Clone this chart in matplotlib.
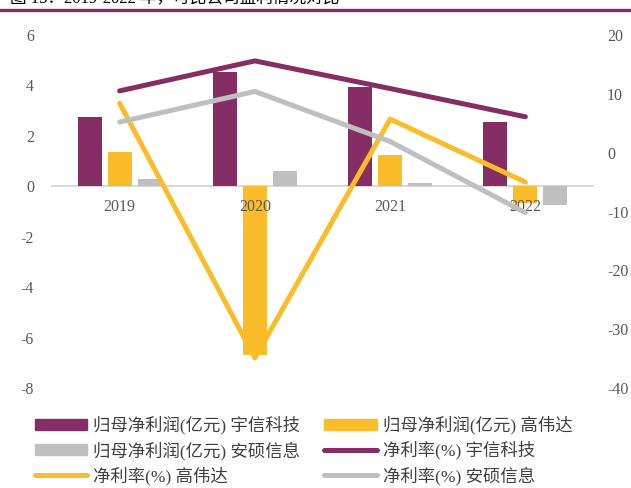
import numpy as np
import matplotlib.pyplot as plt
from matplotlib.lines import Line2D
from matplotlib.patches import Patch

# Data
years = ['2019', '2020', '2021', '2022']
profit_yuxin = [2.75, 4.55, 3.95, 2.55]      # 归母净利润(亿元) 宇信科技
profit_gaowei = [1.35, -6.7, 1.25, -0.65]    # 归母净利润(亿元) 高伟达
profit_anshuo = [0.3, 0.6, 0.12, -0.75]      # 归母净利润(亿元) 安硕信息
margin_yuxin = [10.5, 15.6, 10.9, 6.1]       # 净利率(%) 宇信科技
margin_gaowei = [8.4, -34.9, 5.7, -5.0]      # 净利率(%) 高伟达
margin_anshuo = [5.2, 10.4, 1.9, -10.2]      # 净利率(%) 安硕信息

purple = '#862D66'
yellow = '#FBBC2A'
gray = '#BFBFBF'
tick_color = '#595959'
serif_cjk = ['Liberation Serif', 'Noto Sans CJK SC']

plt.rcParams['font.family'] = serif_cjk
plt.rcParams['axes.unicode_minus'] = False

fig = plt.figure(figsize=(6.31, 4.88), dpi=100)
ax = fig.add_axes([52 / 631, 1 - 388 / 488, (593 - 52) / 631, (388 - 35) / 488])
ax2 = ax.twinx()

x = np.arange(len(years))
w = 0.178
off = 0.222
ax.bar(x - off, profit_yuxin, w, color=purple, zorder=2)
ax.bar(x, profit_gaowei, w, color=yellow, zorder=2)
ax.bar(x + off, profit_anshuo, w, color=gray, zorder=2)

line_kw = dict(lw=3.6, solid_capstyle='round', solid_joinstyle='round')
ax2.plot(x, margin_yuxin, color=purple, **line_kw)
ax2.plot(x, margin_gaowei, color=yellow, **line_kw)
ax2.plot(x, margin_anshuo, color=gray, **line_kw)

ax.set_xlim(-0.5, 3.5)
ax.set_ylim(-8, 6)
ax.set_yticks(range(-8, 7, 2))
ax2.set_ylim(-40, 20)
ax2.set_yticks(range(-40, 21, 10))

for a in (ax, ax2):
    for s in ['top', 'left', 'right']:
        a.spines[s].set_visible(False)
ax2.spines['bottom'].set_visible(False)
ax.set_axisbelow(False)
ax.spines['bottom'].set_position(('data', 0))
ax.spines['bottom'].set_color('#D9D9D9')
ax.spines['bottom'].set_linewidth(1.5)
ax.spines['bottom'].set_zorder(1)

ax.set_xticks(x)
ax.set_xticklabels(years)
ax.tick_params(axis='x', length=0, pad=9.5, labelsize=11.5, labelcolor=tick_color)
ax.tick_params(axis='y', length=0, pad=13, labelsize=11.5, labelcolor=tick_color)
ax2.tick_params(axis='y', length=0, pad=10, labelsize=11.5, labelcolor=tick_color)

# legend (column-first ordering gives the row layout of the original)
handles = [
    Patch(color=purple), Patch(color=gray), Line2D([], [], color=yellow, lw=3.6, solid_capstyle='round'),
    Patch(color=yellow), Line2D([], [], color=purple, lw=3.6, solid_capstyle='round'),
    Line2D([], [], color=gray, lw=3.6, solid_capstyle='round'),
]
labels = [
    '归母净利润(亿元) 宇信科技', '归母净利润(亿元) 安硕信息', '净利率(%) 高伟达',
    '归母净利润(亿元) 高伟达', '净利率(%) 宇信科技', '净利率(%) 安硕信息',
]
leg = fig.legend(handles, labels, ncol=2, loc='upper left', bbox_to_anchor=(35 / 631, 1 - 416 / 488),
                 frameon=False, borderpad=0, borderaxespad=0, fontsize=12.5,
                 handlelength=3.0, handleheight=0.6, handletextpad=0.35,
                 columnspacing=1.4, labelspacing=0.38)
for t in leg.get_texts():
    t.set_color('#404040')

# header band and cut-off title
fig.add_artist(Line2D([0, 1], [1 - 9.5 / 488, 1 - 9.5 / 488], color=purple, lw=2.4,
                      transform=fig.transFigure))
fig.text(0.016, 1 - 2.5 / 488, '图 13：2019-2022 年，可比公司盈利情况对比', fontsize=12,
         va='baseline', ha='left', color='black')

fig.savefig('out.png', dpi=100)
